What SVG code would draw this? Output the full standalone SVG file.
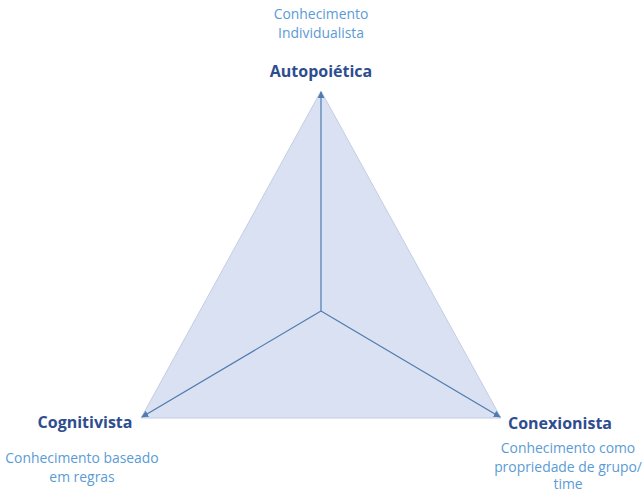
<svg xmlns="http://www.w3.org/2000/svg" width="643" height="493" viewBox="0 0 643 493">
<style>
.t{font-family:"Open Sans","Liberation Sans",sans-serif;text-anchor:middle}
.h{font-size:16px;font-weight:bold;fill:#2e4d8f}
.d{font-size:13.9px;fill:#5b9bd5}
.c{stroke:#4f7cb0;stroke-width:1.2;fill:none;marker-end:url(#a)}
</style>
<defs>
<marker id="a" viewBox="0 0 10 10" refX="9" refY="5" markerWidth="7" markerHeight="7" orient="auto" markerUnits="userSpaceOnUse">
<path d="M0,0 L10,5 L0,10 Z" fill="#4f7cb0"/>
</marker>
</defs>
<rect width="643" height="493" fill="#fff"/>
<g id="triangle">
<polygon points="321,91 141,418 501,418" fill="#dae1f2" stroke="#c3cde2" stroke-width="1"/>
</g>
<g id="connectors">
<line class="c" x1="321" y1="311" x2="321" y2="92"/>
<line class="c" x1="321" y1="311" x2="142" y2="417"/>
<line class="c" x1="321" y1="311" x2="500" y2="417"/>
</g>
<g id="autopoietica">
<text class="t d" x="321" y="19">Conhecimento</text>
<text class="t d" x="321" y="38">Individualista</text>
<text class="t h" x="321" y="77">Autopoiética</text>
</g>
<g id="cognitivista">
<text class="t h" x="85" y="428">Cognitivista</text>
<text class="t d" x="82" y="463">Conhecimento baseado</text>
<text class="t d" x="82" y="482">em regras</text>
</g>
<g id="conexionista">
<text class="t h" x="560" y="429">Conexionista</text>
<text class="t d" x="568" y="453">Conhecimento como</text>
<text class="t d" x="568" y="471.5">propriedade de grupo/</text>
<text class="t d" x="568" y="489">time</text>
</g>
</svg>
